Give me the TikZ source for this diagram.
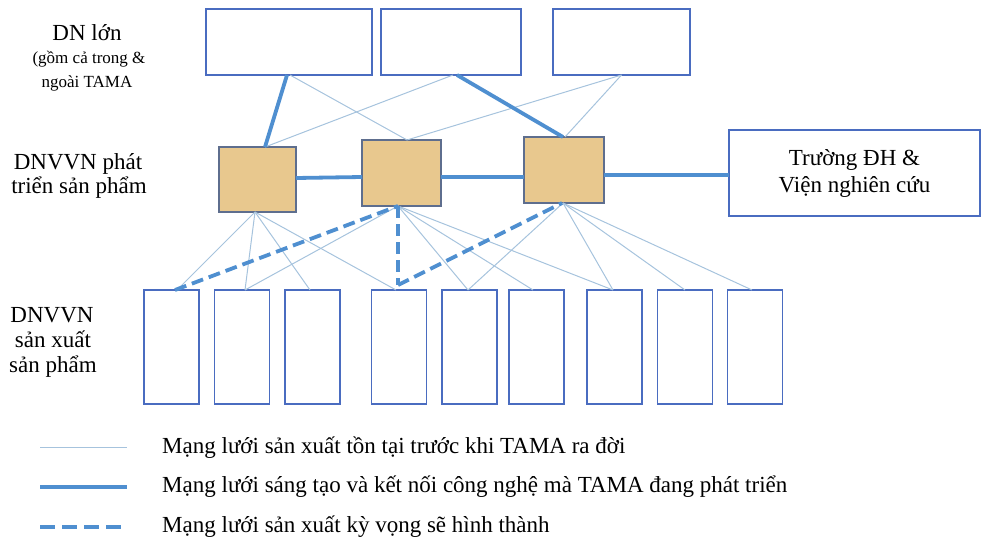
\documentclass[tikz,border=0pt]{standalone}
\usepackage{fontspec}
\setmainfont{Liberation Serif}
\definecolor{boxblue}{HTML}{4A6CC0}
\definecolor{thinblue}{HTML}{A6C3DD}
\definecolor{thickblue}{HTML}{4F8FD0}
\definecolor{tanfill}{HTML}{E8C88E}
\definecolor{tanborder}{HTML}{5E6E8E}
\tikzset{
  wbox/.style={draw=boxblue, line width=1.8pt, fill=white, inner sep=0pt, outer sep=0pt},
  tanbox/.style={draw=tanborder, line width=1.8pt, fill=tanfill, inner sep=0pt, outer sep=0pt, minimum width=78pt, minimum height=66pt},
  pbox/.style={wbox, minimum width=55pt, minimum height=114pt},
  thinline/.style={draw=thinblue, line width=1pt},
  thickline/.style={draw=thickblue, line width=3.8pt},
  dashline/.style={draw=thickblue, line width=3.8pt, dash pattern=on 12pt off 6pt},
  big/.style={font=\fontsize{23}{27}\selectfont},
  small/.style={font=\fontsize{17}{20}\selectfont},
}
\begin{document}
\begin{tikzpicture}[x=1pt,y=-1pt]
\useasboundingbox (0,0) rectangle (989,541);
% top boxes
\node[wbox, minimum width=166pt, minimum height=66pt] (T1) at (289,42) {};
\node[wbox, minimum width=140pt, minimum height=66pt] (T2) at (451,42) {};
\node[wbox, minimum width=137pt, minimum height=66pt] (T3) at (621.5,42) {};
% middle tan boxes
\node[tanbox, minimum width=77pt, minimum height=65pt] (M1) at (257.5,179.5) {};
\node[tanbox, minimum width=79pt] (M2) at (401.5,173) {};
\node[tanbox, minimum width=80pt] (M3) at (564,170) {};
% right box
\node[wbox, minimum width=251pt, minimum height=86pt, align=center, big] (R) at (854.5,173) {Trường ĐH \&\\Viện nghiên cứu};
% bottom boxes
\node[pbox] (B1) at (171.5,347) {};
\node[pbox] (B2) at (242,347) {};
\node[pbox] (B3) at (312.5,347) {};
\node[pbox] (B4) at (399,347) {};
\node[pbox] (B5) at (469.5,347) {};
\node[pbox] (B6) at (536.5,347) {};
\node[pbox] (B7) at (614.5,347) {};
\node[pbox] (B8) at (685,347) {};
\node[pbox] (B9) at (755,347) {};
% top connections
\draw[thinline] ([xshift=1pt]T1.south) -- ([xshift=5.5pt]M2.north);
\draw[thinline] ([xshift=7.5pt]M1.north) -- ([xshift=2pt]T2.south);
\draw[thinline] (T3.south) -- ([xshift=5.5pt]M2.north);
\draw[thinline] (T3.south) -- ([xshift=1pt]M3.north);
\draw[thickline] ([xshift=-2pt]T1.south) -- ([xshift=7.5pt]M1.north);
\draw[thickline] ([xshift=6pt]T2.south) -- ([xshift=-1pt]M3.north);
% horizontal
\draw[thickline] ([yshift=1.5pt]M1.east) -- ([yshift=-4pt]M2.west);
\draw[thickline] ([yshift=-4pt]M2.east) -- ([yshift=-7pt]M3.west);
\draw[thickline] ([yshift=-5pt]M3.east) -- ([yshift=-2pt]R.west);
% bottom thin connections
\draw[thinline] ([xshift=-2.5pt]M1.south) -- ([xshift=5.5pt]B1.north);
\draw[thinline] ([xshift=-2.5pt]M1.south) -- ([xshift=3pt]B2.north);
\draw[thinline] ([xshift=-2.5pt]M1.south) -- ([xshift=-2.5pt]B3.north);
\draw[thinline] ([xshift=-2.5pt]M1.south) -- ([xshift=-3pt]B4.north);
\draw[thinline] ([xshift=-3.5pt]M2.south) -- ([xshift=3pt]B2.north);
\draw[thinline] ([xshift=-3.5pt]M2.south) -- ([xshift=-1.5pt]B5.north);
\draw[thinline] ([xshift=-3.5pt]M2.south) -- ([xshift=-3.5pt]B6.north);
\draw[thinline] ([xshift=-3.5pt]M2.south) -- ([xshift=-1.5pt]B7.north);
\draw[thinline] ([xshift=-1pt]M3.south) -- ([xshift=-1.5pt]B5.north);
\draw[thinline] ([xshift=-1pt]M3.south) -- ([xshift=-1.5pt]B7.north);
\draw[thinline] ([xshift=-1pt]M3.south) -- (B8.north);
\draw[thinline] ([xshift=-1pt]M3.south) -- ([xshift=-3pt]B9.north);
% dashed
\draw[dashline] ([xshift=3.5pt]B1.north) -- ([xshift=-3.5pt]M2.south);
\draw[dashline] ([xshift=-3.5pt]M2.south) -- ([xshift=-1pt,yshift=5pt]B4.north);
\draw[dashline] ([xshift=-1pt,yshift=5pt]B4.north) -- ([xshift=-2pt]M3.south);
% left labels
\node[big, anchor=base] (L1) at (87,40) {DN lớn};
\node[small, anchor=base] (L2) at (89,63) {(gồm cả trong \&};
\node[small, anchor=base] (L3) at (87,87) {ngoài TAMA};
\node[big, anchor=base] (L4) at (78,169) {DNVVN phát};
\node[big, anchor=base] (L5) at (79,193) {triển sản phẩm};
\node[big, anchor=base] (L6) at (52,322) {DNVVN};
\node[big, anchor=base] (L7) at (53,347) {sản xuất};
\node[big, anchor=base] (L8) at (53,372) {sản phẩm};
% legend
\coordinate (g1a) at (40,447); \coordinate (g1b) at (127,447);
\coordinate (g2a) at (40,487); \coordinate (g2b) at (127,487);
\coordinate (g3a) at (40,527); \coordinate (g3b) at (127,527);
\draw[thinline] (g1a) -- (g1b);
\draw[thickline, line width=3.4pt] (g2a) -- (g2b);
\draw[dashline, line width=3.4pt, dash pattern=on 15pt off 7pt] (g3a) -- (g3b);
\node[big, anchor=base west, inner sep=0pt] (G1) at (162,453) {Mạng lưới sản xuất tồn tại trước khi TAMA ra đời};
\node[big, anchor=base west, inner sep=0pt] (G2) at (162,492) {Mạng lưới sáng tạo và kết nối công nghệ mà TAMA đang phát triển};
\node[big, anchor=base west, inner sep=0pt] (G3) at (162,532) {Mạng lưới sản xuất kỳ vọng sẽ hình thành};
\end{tikzpicture}
\end{document}
